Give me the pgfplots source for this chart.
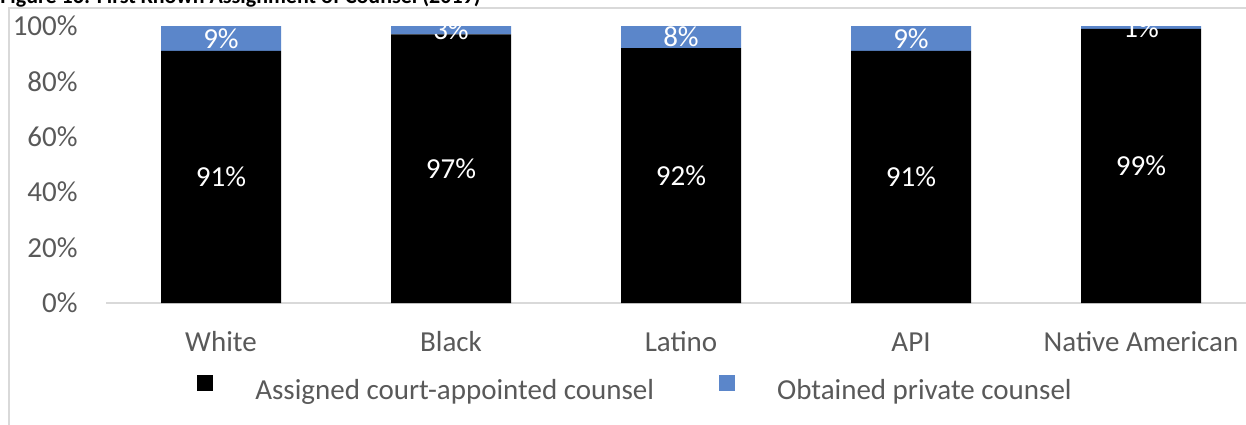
\documentclass[border=0pt]{standalone}
\usepackage{pgfplots}
\pgfplotsset{compat=1.18}
\usepackage{fontspec}
\setmainfont{Carlito}
\definecolor{txt}{HTML}{595959}
\definecolor{priv}{HTML}{5B86CA}
\definecolor{gridc}{HTML}{D9D9D9}
\newcommand{\lbl}{\fontsize{14.5}{17}\selectfont}

\pgfplotstableread{
x y
0 91
1 97
2 92
3 91
4 99
}\assigned
\pgfplotstableread{
x y
0 9
1 3
2 8
3 9
4 1
}\private

\begin{document}
\begin{tikzpicture}
\useasboundingbox (0,0) rectangle (623pt,212pt);
\clip (0,0) rectangle (623pt,212pt);
\draw[gridc, line width=0.75pt] (4.5pt,-5pt) -- (4.5pt,208pt) -- (640pt,208pt);
\node[anchor=base west, inner sep=0pt, font=\fontsize{11}{13}\selectfont\bfseries]
  at (0pt,210pt) {Figure 16: First Known Assignment of Counsel (2019)};
\begin{axis}[
  at={(53pt,60.5pt)}, anchor=south west,
  scale only axis, width=575pt, height=138.5pt,
  ybar stacked, bar width=60pt,
  xmin=-0.5, xmax=4.5, ymin=0, ymax=100,
  xtick={0,...,4},
  xticklabels={White,Black,Latino,API,Native American},
  ytick={0,20,...,100},
  yticklabel={\pgfmathprintnumber{\tick}\%},
  major tick length=0pt,
  axis x line*=bottom, axis y line*=left,
  x axis line style={draw=gridc, line width=0.75pt, -},
  y axis line style={draw=none},
  tick label style={font=\lbl, text=txt},
  /pgf/number format/assume math mode=true,
  xticklabel style={anchor=base, inner sep=0pt, yshift=-24pt},
  yticklabel style={anchor=east, inner sep=0pt, xshift=-14pt},
  point meta=explicit symbolic,
  nodes near coords={\pgfplotspointmeta\%},
  every node near coord/.append style={font=\lbl, text=white, anchor=center},
  legend columns=2,
  legend style={at={(0.0791,-0.3105)}, anchor=west, draw=none, fill=none,
    inner sep=0pt, font=\lbl, text=txt, nodes={inner sep=0pt},
    /tikz/every odd column/.append style={column sep=21pt},
    /tikz/every even column/.append style={column sep=32.5pt}},
]
\addplot[fill=black, draw=none,
  legend image code/.code={\fill[black] (0pt,0pt) rectangle (8pt,8pt);}]
  table[x=x, y=y, meta=y] {\assigned};
\addlegendentry{Assigned court-appointed counsel}
\addplot[fill=priv, draw=none,
  legend image code/.code={\fill[priv] (0pt,0pt) rectangle (8pt,8pt);}]
  table[x=x, y=y, meta=y] {\private};
\addlegendentry{Obtained private counsel}
\end{axis}
\end{tikzpicture}
\end{document}
